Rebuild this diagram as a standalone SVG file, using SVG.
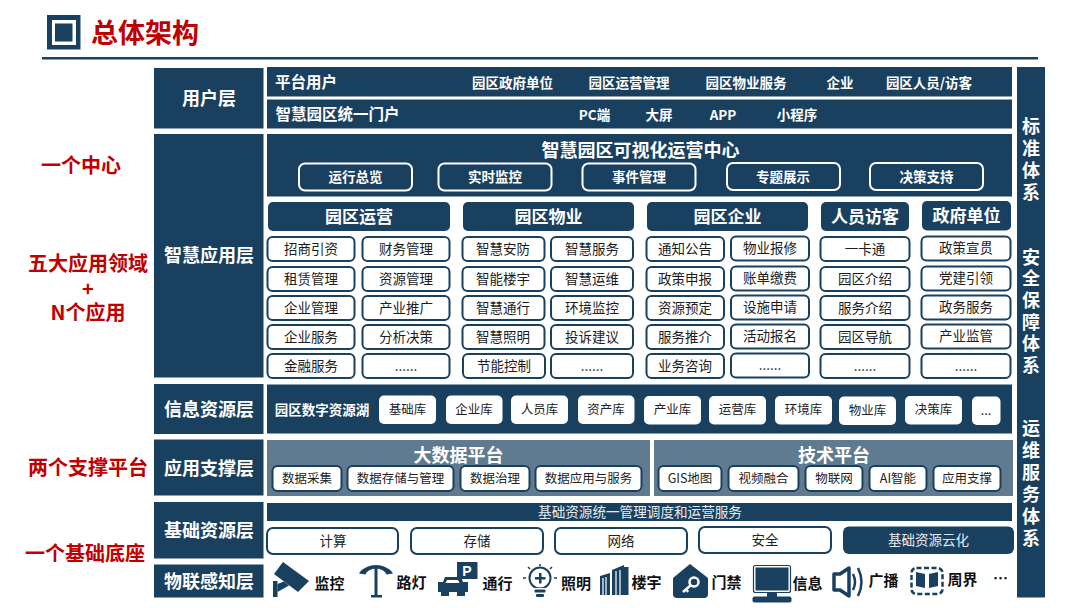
<svg xmlns="http://www.w3.org/2000/svg" width="1080" height="608" viewBox="0 0 1080 608">
<style>
text{font-family:"Noto Sans CJK SC","Noto Sans",sans-serif;text-anchor:middle;dominant-baseline:central;transform:translateY(-1.500px)}
tspan{dominant-baseline:central}
.d{fill:#1a4060}
.w{fill:#fff}
.b{font-weight:700}
.L{font-size:18px;font-weight:700;fill:#fff}
.H{font-size:17px;font-weight:700;fill:#fff}
.T{font-size:13.500px;font-weight:700;fill:#fff}
.T2{font-size:15.500px;font-weight:700;fill:#fff}
.C{font-size:13.500px;fill:#1c1c1c}
.S{font-size:12.500px;fill:#222}
.R{font-size:20px;font-weight:700;fill:#c00000}
.I{font-size:15px;font-weight:700;fill:#111}
.V{font-size:18px;font-weight:700;fill:#fff}
.cell{fill:#fff;stroke:#1a4060;stroke-width:2}
.btn{fill:#1a4060;stroke:#fff;stroke-width:2}
.panel{fill:#607a90}
.ic{fill:#1a4060}
.st{fill:none;stroke:#1a4060}
</style>

<g id="title">
<rect x="47" y="15" width="33.500" height="34.500" class="d"/>
<rect x="52" y="20" width="24" height="25" fill="#fff"/>
<rect x="55" y="23.500" width="17.500" height="18" class="d"/>
<text x="145" y="33" class="b" font-size="27" fill="#c00000">总体架构</text>
<rect x="42" y="57" width="996" height="2.500" class="d"/>
</g>

<g id="left-notes">
<text x="81" y="166" class="R">一个中心</text>
<text x="88" y="264" class="R">五大应用领域</text>
<text x="88" y="289" class="R">+</text>
<text x="88" y="313" class="R">N个应用</text>
<text x="88" y="468" class="R">两个支撑平台</text>
<text x="85" y="554" class="R">一个基础底座</text>
</g>

<g id="layer-user">
<rect x="154" y="68" width="109.500" height="60.500" class="d"/>
<text x="209" y="98" class="L">用户层</text>
<rect x="267" y="67" width="745" height="29.500" class="d"/>
<rect x="267" y="99.500" width="745" height="29" class="d"/>
<text x="306" y="82" class="T2">平台用户</text>
<text x="512.500" y="83" class="T">园区政府单位</text>
<text x="629" y="83" class="T">园区运营管理</text>
<text x="746" y="83" class="T">园区物业服务</text>
<text x="840" y="83" class="T">企业</text>
<text x="929" y="83" class="T">园区人员/访客</text>
<text x="337.500" y="114" class="T2">智慧园区统一门户</text>
<text x="594.500" y="115" class="T">PC端</text>
<text x="659" y="115" class="T">大屏</text>
<text x="723" y="115" class="T">APP</text>
<text x="797" y="115" class="T">小程序</text>
</g>

<g id="layer-app">
<rect x="154" y="134" width="109.500" height="243.500" class="d"/>
<text x="209" y="255" class="L">智慧应用层</text>
<rect x="267" y="134" width="745" height="62.500" class="d"/>
<text x="640.500" y="150" class="L">智慧园区可视化运营中心</text>
<g class="btn">
<rect x="299" y="163.500" width="113" height="27" rx="6"/>
<rect x="438.500" y="163.500" width="113" height="27" rx="6"/>
<rect x="582.500" y="163.500" width="113" height="27" rx="6"/>
<rect x="727" y="163" width="113" height="27" rx="6"/>
<rect x="870" y="163" width="113" height="27" rx="6"/>
</g>
<text x="355.500" y="177" class="T">运行总览</text>
<text x="495" y="177" class="T">实时监控</text>
<text x="639" y="177" class="T">事件管理</text>
<text x="783" y="177" class="T">专题展示</text>
<text x="926.500" y="177" class="T">决策支持</text>
</g>

<g id="domain-operation">
<rect x="268" y="202" width="182" height="29" rx="5" class="d"/>
<text x="359" y="216.500" class="H">园区运营</text>
<g class="cell">
<rect x="267.500" y="237" width="87" height="24" rx="5"/><rect x="362.500" y="237" width="87" height="24" rx="5"/>
<rect x="267.500" y="267" width="87" height="24" rx="5"/><rect x="362.500" y="267" width="87" height="24" rx="5"/>
<rect x="267.500" y="296" width="87" height="24" rx="5"/><rect x="362.500" y="296" width="87" height="24" rx="5"/>
<rect x="267.500" y="325" width="87" height="24" rx="5"/><rect x="362.500" y="325" width="87" height="24" rx="5"/>
<rect x="267.500" y="354" width="87" height="24" rx="5"/><rect x="362.500" y="354" width="87" height="24" rx="5"/>
</g>
<text x="311" y="249" class="C">招商引资</text><text x="406" y="249" class="C">财务管理</text>
<text x="311" y="279" class="C">租赁管理</text><text x="406" y="279" class="C">资源管理</text>
<text x="311" y="308" class="C">企业管理</text><text x="406" y="308" class="C">产业推广</text>
<text x="311" y="337" class="C">企业服务</text><text x="406" y="337" class="C">分析决策</text>
<text x="311" y="366" class="C">金融服务</text><text x="406" y="366" class="C">......</text>
</g>

<g id="domain-property">
<rect x="463" y="202" width="171" height="29" rx="5" class="d"/>
<text x="548.500" y="216.500" class="H">园区物业</text>
<g class="cell">
<rect x="462.500" y="237" width="82" height="24" rx="5"/><rect x="551" y="237" width="82" height="24" rx="5"/>
<rect x="462.500" y="267" width="82" height="24" rx="5"/><rect x="551" y="267" width="82" height="24" rx="5"/>
<rect x="462.500" y="296" width="82" height="24" rx="5"/><rect x="551" y="296" width="82" height="24" rx="5"/>
<rect x="462.500" y="325" width="82" height="24" rx="5"/><rect x="551" y="325" width="82" height="24" rx="5"/>
<rect x="463" y="354" width="82" height="24" rx="5"/><rect x="551" y="354" width="82" height="24" rx="5"/>
</g>
<text x="503" y="249" class="C">智慧安防</text><text x="592" y="249" class="C">智慧服务</text>
<text x="503" y="279" class="C">智能楼宇</text><text x="592" y="279" class="C">智慧运维</text>
<text x="503" y="308" class="C">智慧通行</text><text x="592" y="308" class="C">环境监控</text>
<text x="503" y="337" class="C">智慧照明</text><text x="592" y="337" class="C">投诉建议</text>
<text x="504" y="366" class="C">节能控制</text><text x="592" y="366" class="C">......</text>
</g>

<g id="domain-enterprise">
<rect x="647" y="202" width="161" height="29" rx="5" class="d"/>
<text x="727.500" y="216.500" class="H">园区企业</text>
<g class="cell">
<rect x="646.500" y="237" width="77.500" height="24" rx="5"/><rect x="731" y="236.500" width="78" height="24" rx="5"/>
<rect x="646.500" y="267" width="77.500" height="24" rx="5"/><rect x="731" y="266.500" width="78" height="24" rx="5"/>
<rect x="646.500" y="296" width="77.500" height="24" rx="5"/><rect x="731" y="295.500" width="78" height="24" rx="5"/>
<rect x="646.500" y="325" width="77.500" height="24" rx="5"/><rect x="731" y="324.500" width="78" height="24" rx="5"/>
<rect x="646.500" y="354" width="77.500" height="24" rx="5"/><rect x="731" y="353.500" width="78" height="24" rx="5"/>
</g>
<text x="685" y="249" class="C">通知公告</text><text x="770" y="248" class="C">物业报修</text>
<text x="685" y="279" class="C">政策申报</text><text x="770" y="278" class="C">账单缴费</text>
<text x="685" y="308" class="C">资源预定</text><text x="770" y="307" class="C">设施申请</text>
<text x="685" y="337" class="C">服务推介</text><text x="770" y="336" class="C">活动报名</text>
<text x="685" y="366" class="C">业务咨询</text><text x="770" y="365" class="C">......</text>
</g>

<g id="domain-visitor">
<rect x="821" y="202" width="88" height="29" rx="5" class="d"/>
<text x="865" y="216.500" class="H">人员访客</text>
<g class="cell">
<rect x="820.500" y="237" width="89" height="24" rx="5"/>
<rect x="820.500" y="267" width="89" height="24" rx="5"/>
<rect x="820.500" y="296" width="89" height="24" rx="5"/>
<rect x="820.500" y="325" width="89" height="24" rx="5"/>
<rect x="820.500" y="354" width="89" height="24" rx="5"/>
</g>
<text x="865" y="249" class="C">一卡通</text>
<text x="865" y="279" class="C">园区介绍</text>
<text x="865" y="308" class="C">服务介绍</text>
<text x="865" y="337" class="C">园区导航</text>
<text x="865" y="366" class="C">......</text>
</g>

<g id="domain-government">
<rect x="922" y="201" width="89" height="29.500" rx="5" class="d"/>
<text x="966.500" y="215.500" class="H">政府单位</text>
<g class="cell">
<rect x="921.500" y="236.500" width="89" height="24" rx="5"/>
<rect x="921.500" y="266.500" width="89" height="24" rx="5"/>
<rect x="921.500" y="295.500" width="89" height="24" rx="5"/>
<rect x="921.500" y="324.500" width="89" height="24" rx="5"/>
<rect x="921.500" y="354" width="89" height="24" rx="5"/>
</g>
<text x="966" y="248" class="C">政策宣贯</text>
<text x="966" y="278" class="C">党建引领</text>
<text x="966" y="307" class="C">政务服务</text>
<text x="966" y="336" class="C">产业监管</text>
<text x="966" y="366" class="C">......</text>
</g>

<g id="layer-info">
<rect x="154" y="384" width="109.500" height="50" class="d"/>
<text x="209" y="409" class="L">信息资源层</text>
<rect x="267" y="384.500" width="745" height="49" class="d"/>
<text x="322" y="410" class="T">园区数字资源湖</text>
<g class="w">
<rect x="379" y="395.500" width="57" height="28.500" rx="5"/>
<rect x="446" y="395.500" width="56.500" height="28.500" rx="5"/>
<rect x="511" y="395.500" width="57" height="28.500" rx="5"/>
<rect x="578" y="395.500" width="56.500" height="28.500" rx="5"/>
<rect x="644" y="396" width="57" height="28.500" rx="5"/>
<rect x="709" y="396" width="57" height="28.500" rx="5"/>
<rect x="775" y="396" width="57" height="28.500" rx="5"/>
<rect x="839" y="396.500" width="57" height="28.500" rx="5"/>
<rect x="905" y="396" width="57" height="28.500" rx="5"/>
<rect x="972" y="396.500" width="28.500" height="28.500" rx="5"/>
</g>
<text x="407.500" y="410" class="S">基础库</text>
<text x="474" y="410" class="S">企业库</text>
<text x="539.500" y="410" class="S">人员库</text>
<text x="606" y="410" class="S">资产库</text>
<text x="672.500" y="410" class="S">产业库</text>
<text x="737.500" y="410" class="S">运营库</text>
<text x="803.500" y="410" class="S">环境库</text>
<text x="867.500" y="411" class="S">物业库</text>
<text x="933.500" y="410" class="S">决策库</text>
<text x="986" y="411" class="S">...</text>
</g>

<g id="layer-support">
<rect x="154" y="439.500" width="109.500" height="56" class="d"/>
<text x="209" y="468" class="L">应用支撑层</text>
<rect x="267" y="440" width="383" height="56" class="panel"/>
<rect x="654" y="440" width="359" height="56" class="panel"/>
<text x="458.500" y="455" class="L">大数据平台</text>
<text x="834" y="455" class="L">技术平台</text>
<g class="cell">
<rect x="272.500" y="466" width="69" height="25" rx="5"/>
<rect x="347.500" y="466" width="106" height="25" rx="5"/>
<rect x="460.500" y="466" width="69" height="25" rx="5"/>
<rect x="535.500" y="466" width="106" height="25" rx="5"/>
<rect x="658.500" y="466" width="63" height="25" rx="5"/>
<rect x="728.500" y="466" width="70" height="25" rx="5"/>
<rect x="805.500" y="466" width="57" height="25" rx="5"/>
<rect x="869.500" y="466" width="57" height="25" rx="5"/>
<rect x="933.500" y="466" width="67" height="25" rx="5"/>
</g>
<text x="307" y="479" class="S">数据采集</text>
<text x="400.500" y="479" class="S">数据存储与管理</text>
<text x="495" y="479" class="S">数据治理</text>
<text x="588.500" y="479" class="S">数据应用与服务</text>
<text x="690" y="479" class="S">GIS地图</text>
<text x="763.500" y="479" class="S">视频融合</text>
<text x="834" y="479" class="S">物联网</text>
<text x="898" y="479" class="S">AI智能</text>
<text x="967" y="479" class="S">应用支撑</text>
</g>

<g id="layer-base">
<rect x="154" y="502" width="109.500" height="56.500" class="d"/>
<text x="209" y="530" class="L">基础资源层</text>
<rect x="267" y="503" width="745" height="18" class="d"/>
<text x="640" y="512" font-size="13.600" fill="#e6ebef">基础资源统一管理调度和运营服务</text>
<g class="cell">
<rect x="267" y="528" width="131" height="26" rx="6"/>
<rect x="411" y="528" width="132" height="26" rx="6"/>
<rect x="555" y="528" width="132" height="26" rx="6"/>
<rect x="699" y="527" width="132" height="26" rx="6"/>
</g>
<rect x="843" y="526.500" width="171" height="27.500" rx="6" class="d"/>
<text x="333" y="541" font-size="13.500" fill="#222">计算</text>
<text x="477" y="541" font-size="13.500" fill="#222">存储</text>
<text x="621" y="541" font-size="13.500" fill="#222">网络</text>
<text x="765" y="540" font-size="13.500" fill="#222">安全</text>
<text x="928.500" y="540" font-size="13.500" fill="#e6ebef">基础资源云化</text>
</g>

<g id="layer-iot">
<rect x="154" y="564.500" width="109.500" height="33" class="d"/>
<text x="209" y="581" class="L">物联感知层</text>
</g>

<g id="iot-camera">
<path class="ic" d="M274 574L283 562L309 581L298 592Z"/>
<rect x="273" y="581" width="4.500" height="16" class="ic"/>
<path class="ic" d="M277.500 584L284 581.500L289 585.500L277.500 592Z"/>
<text x="329.500" y="584" class="I">监控</text>
</g>
<g id="iot-lamp">
<rect x="374.500" y="566" width="3" height="30" class="ic"/>
<rect x="371" y="595" width="11" height="2.500" class="ic"/>
<path class="ic" d="M359 573.500C362 568 370 565 376 565V568.500C370 569 367 571 365.500 574.500ZM393 573.500C390 568 382 565 376 565V568.500C382 569 385 571 386.500 574.500Z"/>
<text x="411.500" y="583" class="I">路灯</text>
</g>
<g id="iot-parking">
<rect x="457" y="562" width="20.500" height="17" class="ic"/>
<text x="467" y="572" class="b" font-size="14" fill="#fff" style="font-family:'Liberation Sans',sans-serif">P</text>
<path class="ic" d="M445 577H461L463 582H468V592H465V596H457V592H449V596H441V592H438V582H443ZM447 580L445.500 583H459.500L458 580Z"/>
<text x="497.500" y="584" class="I">通行</text>
</g>
<g id="iot-bulb">
<circle cx="540" cy="578" r="10.500" fill="none" stroke="#1a4060" stroke-width="2"/>
<rect x="534" y="588" width="12" height="3" fill="#fff"/>
<path class="ic" d="M539 573h2.500v4h4v2.500h-4v4h-2.500v-4h-4v-2.500h4Z"/>
<rect x="534.500" y="589.500" width="11" height="3" rx="1" class="ic"/>
<rect x="536" y="594" width="8" height="3" rx="1" class="ic"/>
<path class="st" stroke-width="1.500" d="M540 564V566M528 567L530 569M552 567L550 569M523 578H526M554 578H557"/>
<text x="576" y="584" class="I">照明</text>
</g>
<g id="iot-building">
<path class="ic" d="M600 576L610 573V595H600ZM612 570L624 565V595H612Z"/>
<rect x="624" y="567" width="4.500" height="28" class="ic"/>
<path stroke="#fff" stroke-width="1.200" fill="none" d="M603 578V595M606 577V595M616 571V595M620 570V595"/>
<text x="646.500" y="583" class="I">楼宇</text>
</g>
<g id="iot-door">
<path class="ic" d="M690 564L708 578V594Q708 598 704 598H677Q673 598 673 594V578Z"/>
<circle cx="694" cy="582" r="4.500" fill="none" stroke="#fff" stroke-width="2.500"/>
<path stroke="#fff" stroke-width="2.500" fill="none" d="M691 585L683 592M686 589L688 592"/>
<text x="726.500" y="583" class="I">门禁</text>
</g>
<g id="iot-monitor">
<rect x="753.500" y="565.500" width="37" height="27" rx="2" fill="#fff" stroke="#1a4060" stroke-width="1.200"/>
<rect x="755.500" y="567.500" width="33" height="23" class="ic"/>
<rect x="767" y="592" width="10" height="5" class="ic"/>
<rect x="752.500" y="596.500" width="39" height="6" rx="2" class="ic"/>
<text x="807.500" y="584" class="I">信息</text>
</g>
<g id="iot-speaker">
<path fill="none" stroke="#1a4060" stroke-width="3.500" stroke-linejoin="round" d="M834 574H840L849 568V596L840 590H834Z"/>
<path fill="none" stroke="#1a4060" stroke-width="2.500" d="M853 574Q857 582 853 590M858 568Q865 582 858 596"/>
<text x="883.500" y="581" class="I">广播</text>
</g>
<g id="iot-perimeter">
<rect x="911.500" y="568" width="31" height="26" rx="5" fill="none" stroke="#1a4060" stroke-width="2.500" stroke-dasharray="5 2.500"/>
<path class="ic" d="M916 572L925 574V588L916 586ZM938 572L929 574V588L938 586Z"/>
<text x="962.500" y="580" class="I">周界</text>
</g>
<text x="1000.500" y="579" class="I">…</text>

<g id="side-columns">
<rect x="1017" y="67" width="28" height="530.500" class="d"/>
<text x="1031" y="126" class="V">标<tspan x="1031" dy="22">准</tspan><tspan x="1031" dy="22">体</tspan><tspan x="1031" dy="22">系</tspan></text>
<text x="1031" y="257" class="V">安<tspan x="1031" dy="21.700">全</tspan><tspan x="1031" dy="21.700">保</tspan><tspan x="1031" dy="21.700">障</tspan><tspan x="1031" dy="21.700">体</tspan><tspan x="1031" dy="21.700">系</tspan></text>
<text x="1031" y="428" class="V">运<tspan x="1031" dy="22">维</tspan><tspan x="1031" dy="22">服</tspan><tspan x="1031" dy="22">务</tspan><tspan x="1031" dy="22">体</tspan><tspan x="1031" dy="22">系</tspan></text>
</g>
</svg>
